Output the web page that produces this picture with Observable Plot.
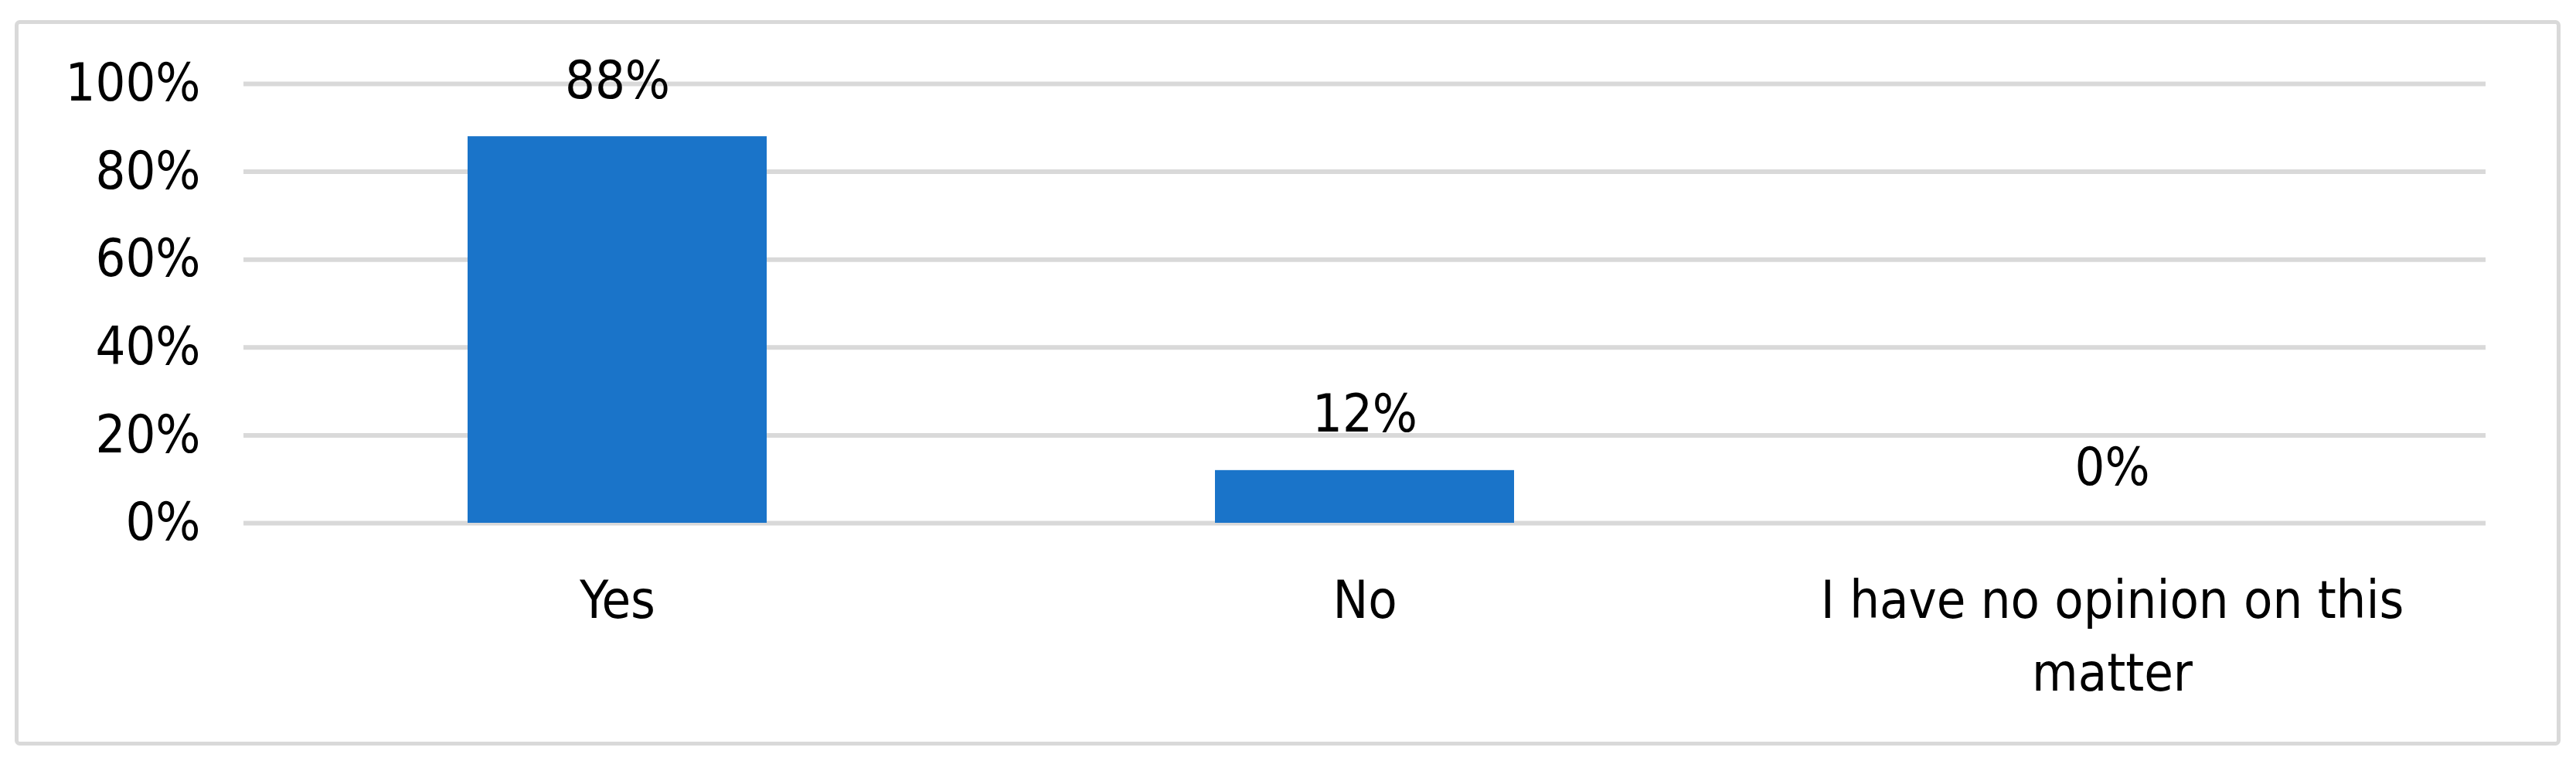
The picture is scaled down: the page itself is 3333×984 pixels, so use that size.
<!DOCTYPE html>
<html>
<head>
<meta charset="utf-8">
<script src="https://cdn.jsdelivr.net/npm/d3@7"></script>
<script src="https://cdn.jsdelivr.net/npm/@observablehq/plot@0.6"></script>
<style>
  html, body { margin: 0; padding: 0; background: #fff; }
  #chart svg { display: block; }
</style>
</head>
<body>
<div id="chart"></div>
<script>
const categories = ["Yes", "No", "I have no opinion on this matter"];
const values = [0.88, 0.12, 0.0];
const tickLabels = ["Yes", "No", "I have no opinion on this\nmatter"];
const yTicks = [0, 0.2, 0.4, 0.6, 0.8, 1.0];

const data = categories.map((c, i) => ({category: c, value: values[i]}));
const labelOf = new Map(categories.map((c, i) => [c, tickLabels[i]]));

const FONT = "'Liberation Sans Narrow', 'DejaVu Sans Condensed', 'Open Sans', sans-serif";

const chart = Plot.plot({
  width: 3333,
  height: 984,
  marginLeft: 315,
  marginRight: 117,
  marginTop: 108,
  marginBottom: 308,
  style: {fontFamily: FONT, background: "#fff", color: "#000"},
  x: {domain: categories, paddingInner: 0.6, paddingOuter: 0.3, label: null},
  y: {domain: [0, 1], label: null},
  marks: [
    Plot.frame({
      stroke: "#d9d9d9", strokeWidth: 5, rx: 4,
      insetLeft: -294, insetRight: -94, insetTop: -80, insetBottom: -285
    }),
    Plot.ruleY(yTicks, {stroke: "#d9d9d9", strokeWidth: 6, strokeOpacity: 1}),
    Plot.barY(data, {x: "category", y: "value", fill: "#1a74c9"}),
    Plot.text(data, {
      x: "category", y: "value",
      text: d => d3.format(".0%")(d.value),
      lineAnchor: "bottom", dy: -50,
      fontSize: 68, fill: "#000"
    }),
    Plot.axisY({
      ticks: yTicks, tickFormat: d3.format(".0%"),
      tickSize: 0, tickPadding: 56, fontSize: 68, fill: "#000", label: null
    }),
    Plot.axisX({
      tickFormat: d => labelOf.get(d),
      tickSize: 0, tickPadding: 56, fontSize: 68, lineHeight: 1.38,
      fill: "#000", label: null
    })
  ]
});

document.getElementById("chart").appendChild(chart);
</script>
</body>
</html>
